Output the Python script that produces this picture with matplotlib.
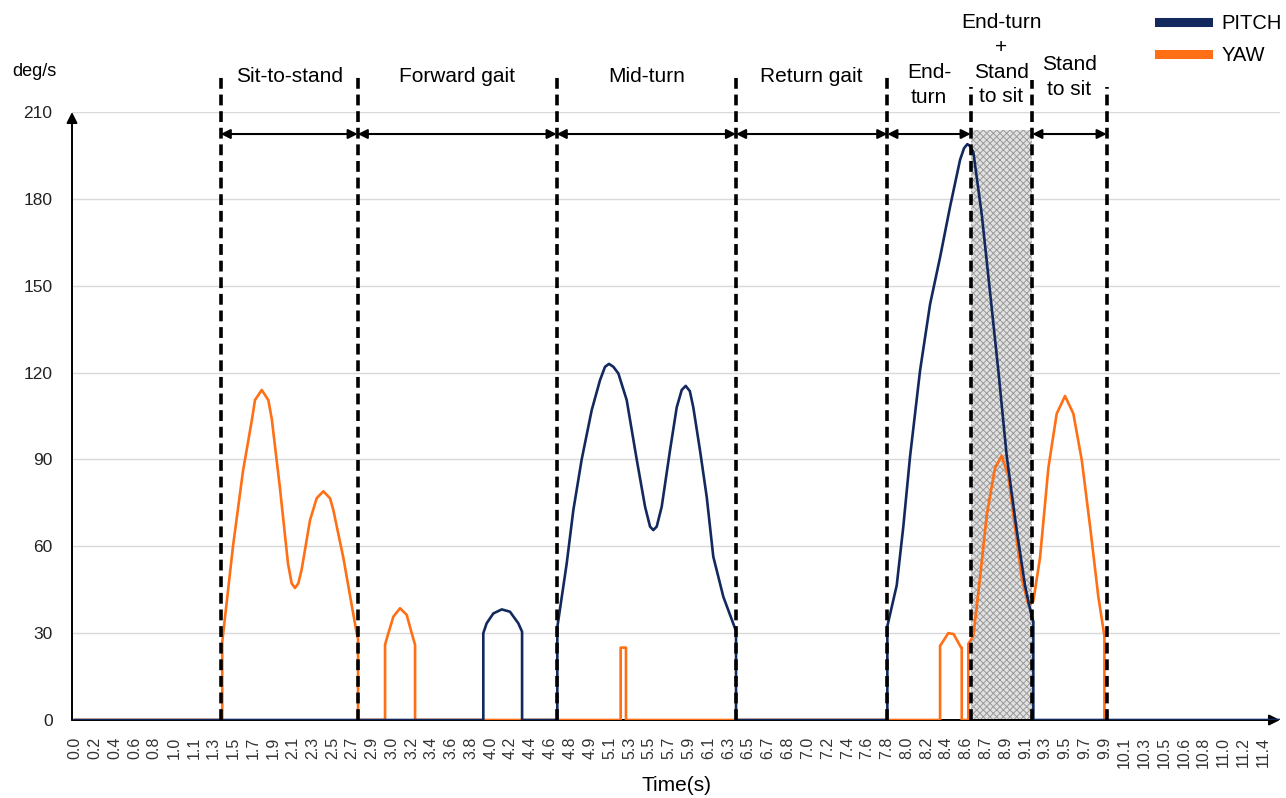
import numpy as np
import matplotlib
matplotlib.use("Agg")
import matplotlib.pyplot as plt
from matplotlib.lines import Line2D

plt.rcParams['font.family'] = ['Liberation Sans', 'DejaVu Sans']
plt.rcParams['hatch.linewidth'] = 0.7

# sampled time labels (s)
tick_labels = ['0.0', '0.2', '0.4', '0.6', '0.8', '1.0', '1.1', '1.3', '1.5', '1.7',
               '1.9', '2.1', '2.3', '2.5', '2.7', '2.9', '3.0', '3.2', '3.4', '3.6',
               '3.8', '4.0', '4.2', '4.4', '4.6', '4.8', '4.9', '5.1', '5.3', '5.5',
               '5.7', '5.9', '6.1', '6.3', '6.5', '6.7', '6.8', '7.0', '7.2', '7.4',
               '7.6', '7.8', '8.0', '8.2', '8.4', '8.6', '8.7', '8.9', '9.1', '9.3',
               '9.5', '9.7', '9.9', '10.1', '10.3', '10.5', '10.6', '10.8', '11.0', '11.2',
               '11.4']
sample_step = 0.19

pitch_t = [0, 3.918, 3.918, 3.95, 4.014, 4.095, 4.174, 4.254, 4.29, 4.29,
           4.628, 4.628, 4.718, 4.782, 4.862, 4.958, 5.038, 5.086, 5.124, 5.166,
           5.214, 5.294, 5.390, 5.470, 5.518, 5.549, 5.582, 5.630, 5.709, 5.774,
           5.822, 5.860, 5.900, 5.933, 5.998, 6.062, 6.125, 6.221, 6.333, 6.343,
           6.343, 7.795, 7.795, 7.885, 7.948, 8.013, 8.109, 8.205, 8.301, 8.397,
           8.493, 8.531, 8.563, 8.589, 8.620, 8.701, 8.781, 8.860, 8.941, 9.037,
           9.116, 9.180, 9.196, 9.196, 11.55]
pitch_v = [0, 0, 30, 33.4, 36.8, 38.2, 37.4, 33.4, 30.5, 0,
           0, 32, 54, 72.5, 90, 107, 117.4, 122, 123, 122,
           119.7, 110.5, 90, 73.7, 66.8, 65.6, 66.8, 73.7, 93, 108,
           114, 115.4, 113.6, 108, 93, 77, 56.4, 42.6, 31.7, 31,
           0, 0, 32.4, 46.5, 66.7, 91, 120.7, 143.6, 159.8, 177.3,
           193.5, 197.5, 198.9, 198.2, 196.2, 174.6, 147.6, 120.7, 91, 65.4,
           46.5, 35.7, 34, 0, 0]

yaw_t = [0, 1.413, 1.413, 1.516, 1.612, 1.699, 1.727, 1.792, 1.855, 1.888,
         1.967, 2.044, 2.079, 2.111, 2.143, 2.175, 2.255, 2.319, 2.383, 2.447,
         2.479, 2.575, 2.703, 2.716, 2.716, 2.975, 2.975, 3.007, 3.055, 3.119,
         3.183, 3.231, 3.263, 3.263, 5.236, 5.236, 5.287, 5.287, 8.301, 8.301,
         8.38, 8.43, 8.50, 8.509, 8.509, 8.572, 8.572, 8.620, 8.684, 8.749,
         8.828, 8.893, 8.956, 9.020, 9.085, 9.148, 9.196, 9.260, 9.340, 9.420,
         9.500, 9.580, 9.661, 9.741, 9.820, 9.878, 9.878]
yaw_v = [0, 0, 27, 60, 86, 104, 110.5, 114, 110.5, 104,
         80, 54, 47.2, 45.6, 47.2, 52, 69, 76.6, 79, 76.6,
         72.5, 56, 30, 28, 0, 0, 26, 30, 35.7, 38.6,
         36.3, 30, 26, 0, 0, 25, 25, 0, 0, 25.6,
         30, 29.7, 25.2, 25, 0, 0, 26.3, 29, 49, 70.8,
         87, 91.3, 84.3, 66.7, 49, 39.8, 41.1, 56, 87, 105.8,
         111.9, 105.8, 89.7, 66.7, 42.5, 29, 0]

# phase boundaries (s) and phase names
bounds = [1.398, 2.713, 4.622, 6.343, 7.795, 8.595, 9.186, 9.900]
bound_tops = [222.8, 222.8, 222.8, 222.8, 222.8, 218.6, 221.0, 218.6]
phases = ['Sit-to-stand', 'Forward gait', 'Mid-turn', 'Return gait', 'End-\nturn',
          'End-turn\n+\nStand\nto sit', 'Stand\nto sit']
phase_label_y = [222.1, 222.1, 222.1, 222.1, 219.3, 228.0, 222.1]

PITCH_C = '#13295e'
YAW_C = '#ff6f15'

fig = plt.figure(figsize=(12.86, 7.98), dpi=100)
ax = fig.add_axes([0.05599, 0.09774, 0.93935, 0.76190])
ax.set_xlim(-0.0288, 11.563)
ax.set_ylim(0, 210)

for s in ax.spines.values():
    s.set_visible(False)

for g in range(30, 211, 30):
    ax.axhline(g, color='#d9d9d9', lw=1.0, zorder=0)

# shaded overlap window
ax.fill_between([bounds[5], bounds[6]], 0, 203.8, facecolor='#e2e2e2',
                edgecolor='#9a9a9a', hatch='xxxxx', lw=0, zorder=1)

ax.plot(yaw_t, yaw_v, color=YAW_C, lw=1.9, zorder=3)
ax.plot(pitch_t, pitch_v, color=PITCH_C, lw=1.9, zorder=3.5)

for b, top in zip(bounds, bound_tops):
    ax.plot([b, b], [0, top], color='black', lw=2.6, ls=(0, (3, 1.6)),
            clip_on=False, zorder=5)

# double headed phase arrows
for i in range(len(bounds) - 1):
    if i == 5:
        continue
    ax.annotate('', xy=(bounds[i + 1], 202.4), xytext=(bounds[i], 202.4),
                arrowprops=dict(arrowstyle='<|-|>', color='black', lw=1.5,
                                mutation_scale=14, shrinkA=0, shrinkB=0),
                zorder=6)

for i, name in enumerate(phases):
    cx = (bounds[i] + bounds[i + 1]) / 2
    ax.text(cx, phase_label_y[i], name, ha='center', va='center', fontsize=15,
            linespacing=1.38, clip_on=False)

# axis arrows
ax.annotate('', xy=(0, 1.0), xytext=(0, 0), xycoords='axes fraction',
            arrowprops=dict(arrowstyle='-|>', color='black', lw=1.4,
                            mutation_scale=16, shrinkA=0, shrinkB=0))
ax.annotate('', xy=(1.0, 0), xytext=(0, 0), xycoords='axes fraction',
            arrowprops=dict(arrowstyle='-|>', color='black', lw=1.4,
                            mutation_scale=16, shrinkA=0, shrinkB=0), zorder=2)

ticks = np.arange(len(tick_labels)) * sample_step
ax.set_xticks(ticks)
ax.set_xticklabels(tick_labels, rotation=90, fontsize=11.5, color='#333333')
ax.set_yticks(range(0, 211, 30))
ax.set_yticklabels([str(v) for v in range(0, 211, 30)], fontsize=12.5, color='#222222')
ax.tick_params(axis='x', length=0, pad=12)
ax.tick_params(axis='y', length=0, pad=14)

ax.set_xlabel('Time(s)', fontsize=15, labelpad=6)
fig.text(12 / 1286, 1 - 71 / 798, 'deg/s', fontsize=13, ha='left', va='center')

handles = [Line2D([], [], color=PITCH_C, lw=6.5), Line2D([], [], color=YAW_C, lw=6.5)]
fig.legend(handles, ['PITCH', 'YAW'], loc='upper right', bbox_to_anchor=(1.008, 1.0),
           frameon=False, fontsize=14.5, handlelength=2.4, handletextpad=0.7,
           labelspacing=0.65, borderpad=0.2)

fig.savefig('out.png', dpi=100)
